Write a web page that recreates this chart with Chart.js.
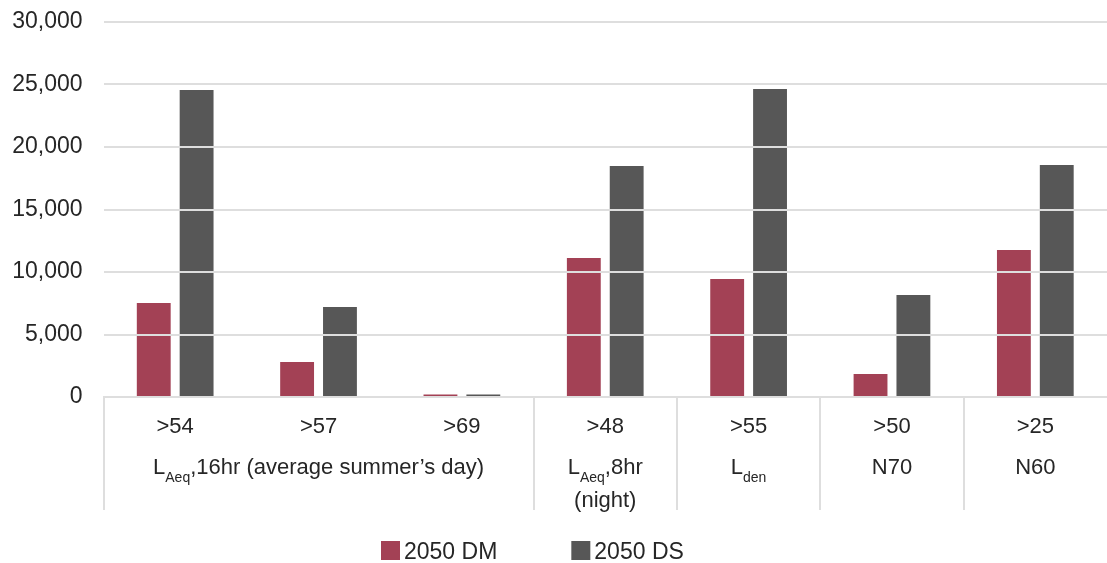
<!DOCTYPE html>
<html>
<head>
<meta charset="utf-8">
<script src="https://cdn.jsdelivr.net/npm/chart.js@4/dist/chart.umd.min.js"></script>
<style>
  html, body { margin: 0; padding: 0; background: #ffffff; }
  #wrap { width: 1107px; height: 563px; position: relative; overflow: hidden; }
</style>
</head>
<body>
<div id="wrap"><canvas id="c" width="1107" height="563"></canvas></div>
<script>
// Threshold categories along the x axis
const categories = ['>54', '>57', '>69', '>48', '>55', '>50', '>25'];

// Population counts per threshold
const dm2050 = [7520, 2800, 200, 11120, 9440, 1840, 11760];
const ds2050 = [24560, 7200, 200, 18480, 24640, 8160, 18560];

const seriesNames = ['2050 DM', '2050 DS'];
const seriesColors = ['#A34155', '#575757'];

// Metric groups under the thresholds ("_{..}" marks subscript, "|" a line break)
const groupLabels = ['L_{Aeq},16hr (average summer’s day)', 'L_{Aeq},8hr|(night)', 'L_{den}', 'N70', 'N60'];
const groupFirst = [0, 3, 4, 5, 6];
const groupLast = [2, 3, 4, 5, 6];

// Value axis
const yMin = 0;
const yMax = 30000;
const yStep = 5000;

const FONT = "'Liberation Sans', Arial, Helvetica, sans-serif";
const TEXT = '#262626';
const GRID = '#dedede';

function parseRich(s) {
  const parts = [];
  const re = /_\{([^}]*)\}/g;
  let last = 0, m;
  while ((m = re.exec(s))) {
    if (m.index > last) parts.push({ t: s.slice(last, m.index) });
    parts.push({ t: m[1], sub: true });
    last = re.lastIndex;
  }
  if (last < s.length) parts.push({ t: s.slice(last) });
  return parts;
}

function drawRich(ctx, text, cx, baseline, size, subSize, subDrop) {
  const parts = parseRich(text);
  let total = 0;
  parts.forEach(p => {
    ctx.font = (p.sub ? subSize : size) + 'px ' + FONT;
    p.w = ctx.measureText(p.t).width;
    total += p.w;
  });
  let x = cx - total / 2;
  ctx.textAlign = 'left';
  ctx.textBaseline = 'alphabetic';
  parts.forEach(p => {
    ctx.font = (p.sub ? subSize : size) + 'px ' + FONT;
    ctx.fillText(p.t, x, baseline + (p.sub ? subDrop : 0));
    x += p.w;
  });
}

// Second tier of the category axis: group labels and separators
const groupAxis = {
  id: 'groupAxis',
  afterDraw(chart) {
    const ctx = chart.ctx;
    const xs = chart.scales.x;
    const top = xs.top;
    const half = (xs.getPixelForValue(1) - xs.getPixelForValue(0)) / 2;
    ctx.save();
    ctx.strokeStyle = GRID;
    ctx.lineWidth = 2;
    groupFirst.forEach((f) => {
      const x = Math.round(xs.getPixelForValue(f) - half);
      ctx.beginPath();
      ctx.moveTo(x, top);
      ctx.lineTo(x, top + 113);
      ctx.stroke();
    });
    ctx.fillStyle = TEXT;
    groupLabels.forEach((label, i) => {
      const cx = (xs.getPixelForValue(groupFirst[i]) + xs.getPixelForValue(groupLast[i])) / 2;
      label.split('|').forEach((line, j) => {
        drawRich(ctx, line, cx, top + 77 + j * 33, 22, 14, 8);
      });
    });
    ctx.restore();
  }
};

// Legend row below the axis
const bottomLegend = {
  id: 'bottomLegend',
  afterDraw(chart) {
    const ctx = chart.ctx;
    ctx.save();
    ctx.font = '23px ' + FONT;
    ctx.textBaseline = 'alphabetic';
    ctx.textAlign = 'left';
    let x = 381;
    chart.data.datasets.forEach((ds) => {
      ctx.fillStyle = ds.backgroundColor;
      ctx.fillRect(x, 541, 19, 19);
      ctx.fillStyle = TEXT;
      ctx.fillText(ds.label, x + 23, 559);
      x += 23 + ctx.measureText(ds.label).width + 74;
    });
    ctx.restore();
  }
};

new Chart(document.getElementById('c'), {
  type: 'bar',
  data: {
    labels: categories,
    datasets: [
      { label: seriesNames[0], data: dm2050, backgroundColor: seriesColors[0] },
      { label: seriesNames[1], data: ds2050, backgroundColor: seriesColors[1] }
    ]
  },
  options: {
    responsive: false,
    devicePixelRatio: 1,
    animation: false,
    layout: { padding: { top: 22, right: -3.5, bottom: 0, left: 0 } },
    datasets: { bar: { barPercentage: 0.79, categoryPercentage: 0.598, borderWidth: 0 } },
    plugins: { legend: { display: false }, tooltip: { enabled: false } },
    scales: {
      x: {
        grid: { display: false, drawTicks: false },
        border: { display: true, color: GRID, width: 2 },
        ticks: { color: TEXT, font: { family: FONT, size: 22 }, padding: 17, maxRotation: 0, autoSkip: false },
        afterFit(s) { s.height = 166; s.paddingLeft = 0; s.paddingRight = 0; }
      },
      y: {
        min: yMin,
        max: yMax,
        grid: { color: GRID, lineWidth: 2, drawTicks: false, z: 1 },
        border: { display: false },
        ticks: {
          stepSize: yStep,
          color: TEXT,
          font: { family: FONT, size: 23 },
          padding: 21,
          callback: (v) => Number(v).toLocaleString('en-US')
        },
        afterFit(s) { s.width = 103.5; s.paddingTop = 0; s.paddingBottom = 0; }
      }
    }
  },
  plugins: [groupAxis, bottomLegend]
});
</script>
</body>
</html>
